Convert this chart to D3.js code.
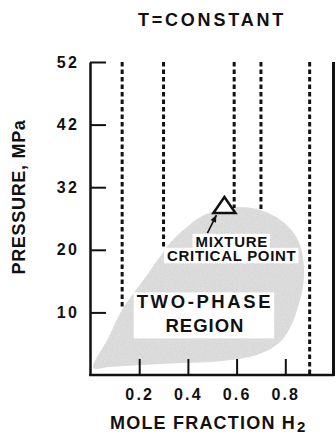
<!DOCTYPE html>
<html>
<head>
<meta charset="utf-8">
<script src="https://cdn.jsdelivr.net/npm/d3@7"></script>
<style>
  html, body { margin: 0; padding: 0; background: #fff; }
  svg { display: block; font-family: "Liberation Sans", Arial, Helvetica, sans-serif; font-weight: bold; }
  text { fill: #111; }
</style>
</head>
<body>
<svg id="chart" width="336" height="435"></svg>
<script>
// Pressure ticks (MPa) – drawn at equal spacing on the axis
const pressureTicks = [10, 20, 32, 42, 52];
// Mole-fraction ticks
const fractionTicks = [0.2, 0.4, 0.6, 0.8];

// Constant-composition lines (mole fraction H2) and the pressure where each meets the envelope
const isoplethFraction = [0.13, 0.30, 0.59, 0.70, 0.90];
const isoplethLowerP   = [10.5, 20.5, 28.0, 27.5, 0];

// Two-phase envelope boundary, traced around the region
const envelopeFraction = [0.012, 0.074, 0.131, 0.184, 0.238, 0.287, 0.336, 0.389, 0.451, 0.512,
                          0.582, 0.648, 0.705, 0.762, 0.811, 0.848, 0.869, 0.877, 0.873, 0.857,
                          0.832, 0.795, 0.738, 0.656, 0.533, 0.369, 0.205, 0.082];
const envelopePressure = [1.1, 6.0, 10.5, 13.4, 16.3, 19.0, 21.8, 24.1, 26.3, 27.5,
                          28.1, 28.1, 27.5, 26.3, 24.5, 22.2, 19.5, 16.9, 14.2, 11.5,
                          8.6, 6.0, 4.1, 2.9, 2.2, 1.9, 1.6, 1.3];

// Mixture critical point
const criticalFraction = 0.55;
const criticalPressure = 28.0;

const svg = d3.select("#chart");
const plotLeft = 90.5, plotRight = 334, plotTop = 62, plotBottom = 375;

const x = d3.scaleLinear().domain([0, 1]).range([plotLeft, plotRight]);
const pDomain = [0, ...pressureTicks];
const y = d3.scaleLinear()
  .domain(pDomain)
  .range(pDomain.map((d, i) => plotBottom - i * (plotBottom - plotTop) / (pDomain.length - 1)));

// Stipple texture for the shaded region
const defs = svg.append("defs");
const f = defs.append("filter").attr("id", "grain").attr("x", 0).attr("y", 0).attr("width", 1).attr("height", 1);
f.append("feTurbulence").attr("type", "fractalNoise").attr("baseFrequency", 0.9).attr("numOctaves", 2).attr("seed", 4).attr("result", "n");
f.append("feColorMatrix").attr("in", "n").attr("type", "matrix")
  .attr("values", "0 0 0 0 0.6  0 0 0 0 0.6  0 0 0 0 0.6  0 0 0 1.3 -0.55").attr("result", "dots");
f.append("feComposite").attr("in", "dots").attr("in2", "SourceGraphic").attr("operator", "in").attr("result", "d2");
const fm = f.append("feMerge");
fm.append("feMergeNode").attr("in", "SourceGraphic");
fm.append("feMergeNode").attr("in", "d2");

// Title
svg.append("text")
  .attr("x", 212).attr("y", 25.5)
  .attr("text-anchor", "middle")
  .style("font-size", "18px").style("letter-spacing", "2.8px")
  .text("T=CONSTANT");

// Two-phase region
const envelope = envelopeFraction.map((d, i) => [x(d), y(envelopePressure[i])]);
svg.append("path")
  .attr("d", d3.line().curve(d3.curveCatmullRomClosed.alpha(0.5))(envelope))
  .attr("fill", "#dddddd")
  .attr("filter", "url(#grain)");

// Isopleths
svg.append("g").selectAll("line")
  .data(isoplethFraction)
  .join("line")
  .attr("x1", d => x(d)).attr("x2", d => x(d))
  .attr("y1", y(52))
  .attr("y2", (d, i) => y(isoplethLowerP[i]))
  .attr("stroke", "#111")
  .attr("stroke-width", 3)
  .attr("stroke-dasharray", "4.5,3");

// Axes
const yAxis = svg.append("g")
  .attr("transform", `translate(${plotLeft - 0.5},0)`)
  .call(d3.axisLeft(y).tickValues(pressureTicks).tickSize(-16).tickSizeOuter(0).tickPadding(11));
const xAxis = svg.append("g")
  .attr("transform", `translate(0,${plotBottom})`)
  .call(d3.axisBottom(x).tickValues(fractionTicks).tickFormat(d3.format(".1f")).tickSize(-16).tickSizeOuter(0).tickPadding(14));
[yAxis, xAxis].forEach(g => {
  g.select(".domain").attr("stroke", "#111").attr("stroke-width", 2.5);
  g.selectAll(".tick line").attr("stroke", "#111").attr("stroke-width", 2);
  g.selectAll(".tick text").attr("fill", "#111")
    .style("font-size", "16px").style("font-family", "Liberation Sans, Arial, sans-serif")
    .style("font-weight", "bold").style("letter-spacing", "2.2px");
});
xAxis.select(".domain").attr("d", `M${plotLeft - 1.5},0H${plotRight}`);
// Right frame
svg.append("line")
  .attr("x1", x(1) - 0.5).attr("x2", x(1) - 0.5)
  .attr("y1", y(52)).attr("y2", plotBottom + 1)
  .attr("stroke", "#111").attr("stroke-width", 3);

// Axis titles
svg.append("text")
  .attr("transform", `translate(25,197) rotate(-90)`)
  .attr("text-anchor", "middle")
  .style("font-size", "18px").style("letter-spacing", "0.7px")
  .text("PRESSURE, MPa");
const xt = svg.append("text")
  .attr("x", 110).attr("y", 429)
  .style("font-size", "18px").style("letter-spacing", "1.2px");
xt.append("tspan").text("MOLE FRACTION H");
xt.append("tspan").attr("dy", 3).attr("dx", 1).style("font-size", "15px").text("2");

// Region label on a white box
const region = svg.append("g");
const regionBox = region.append("rect").attr("fill", "#fff");
const regionText = region.append("text")
  .attr("text-anchor", "middle")
  .style("font-size", "18.5px");
regionText.append("tspan")
  .attr("x", x(0.47)).attr("y", y(10) - 4)
  .style("letter-spacing", "2.6px")
  .text("TWO-PHASE");
regionText.append("tspan")
  .attr("x", x(0.47)).attr("y", y(10) + 20)
  .style("letter-spacing", "1px")
  .text("REGION");
{
  const b = region.node().getBBox();
  regionBox.attr("x", b.x - 3).attr("y", b.y + 1).attr("width", b.width + 4).attr("height", b.height + 1);
}

// Critical point annotation: one text block, white strip behind each line
const cx = x(criticalFraction), cy = y(criticalPressure);
const labelLines = ["MIXTURE", "CRITICAL POINT"];
const cpLabel = svg.append("g");
const cpBoxes = cpLabel.append("g");
const cpText = cpLabel.append("text")
  .attr("text-anchor", "middle")
  .style("font-size", "15px").style("letter-spacing", "0.7px");
cpText.selectAll("tspan")
  .data(labelLines)
  .join("tspan")
  .attr("x", x(0.58))
  .attr("y", (d, i) => y(20) - 3 + i * 14)
  .text(d => d);
cpText.selectAll("tspan").each(function (d, i) {
  const w = this.getComputedTextLength();
  const base = y(20) - 3 + i * 14;
  cpBoxes.append("rect")
    .attr("fill", "#fff")
    .attr("x", x(0.58) - w / 2 - 3)
    .attr("y", base - 13)
    .attr("width", w + 5)
    .attr("height", 15.5);
});

// Arrow from label to the critical point
const ax0 = cx - 17, ay0 = cy + 25, ax1 = cx - 8, ay1 = cy + 7;
svg.append("line")
  .attr("x1", ax0).attr("y1", ay0).attr("x2", ax1).attr("y2", ay1)
  .attr("stroke", "#111").attr("stroke-width", 1.6);
{
  const ang = Math.atan2(ay1 - ay0, ax1 - ax0);
  const L = 7, W = 3;
  const bx = ax1 - L * Math.cos(ang), by = ay1 - L * Math.sin(ang);
  const px = -Math.sin(ang) * W, py = Math.cos(ang) * W;
  svg.append("path")
    .attr("d", `M${ax1},${ay1}L${bx + px},${by + py}L${bx - px},${by - py}Z`)
    .attr("fill", "#111");
}

// Critical point marker
svg.append("path")
  .attr("d", `M${cx},${cy - 11}L${cx + 11},${cy + 5}L${cx - 11},${cy + 5}Z`)
  .attr("fill", "#fff").attr("stroke", "#111").attr("stroke-width", 2.5).attr("stroke-linejoin", "miter");
</script>
</body>
</html>
